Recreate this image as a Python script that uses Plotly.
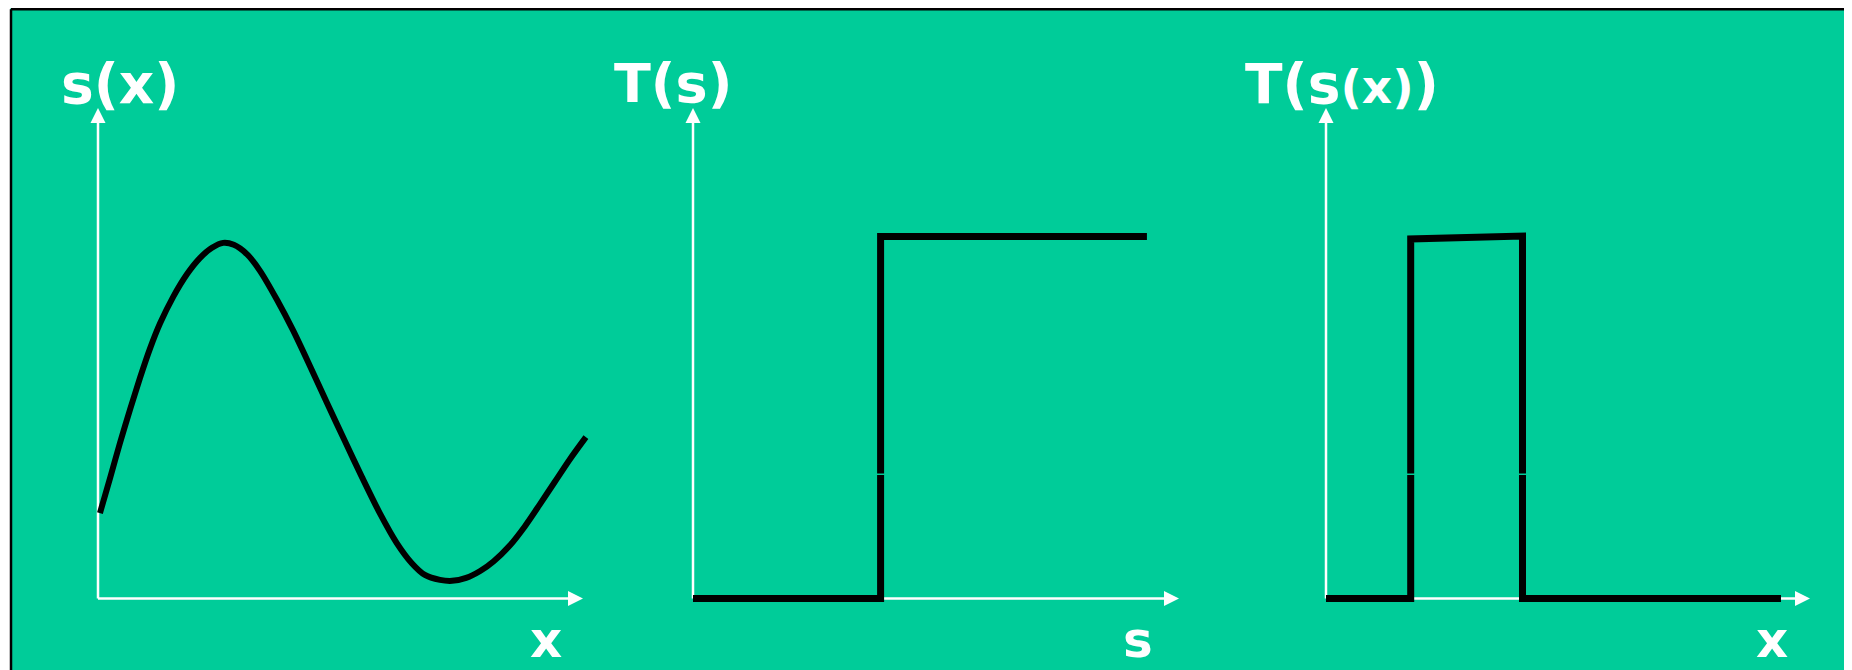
import plotly.graph_objects as go

# ---------------- data ----------------
# Panel 1: s(x)
curve_x = [0.04, 0.25, 0.45, 0.66, 0.87, 1.07, 1.28, 1.55, 1.84, 2.10, 2.35, 2.58,
           2.80, 3.07, 3.34, 3.69, 4.02, 4.37, 4.72, 5.09, 5.44, 5.81, 6.16, 6.47,
           6.74, 7.05, 7.30, 7.59, 7.88, 8.16, 8.49, 8.80, 9.11, 9.42, 9.73, 10.06]
curve_s = [1.74, 2.46, 3.16, 3.85, 4.51, 5.09, 5.61, 6.15, 6.62, 6.94, 7.15, 7.25,
           7.21, 7.02, 6.68, 6.09, 5.47, 4.74, 3.99, 3.21, 2.48, 1.74, 1.13, 0.72,
           0.48, 0.38, 0.36, 0.42, 0.56, 0.76, 1.08, 1.47, 1.92, 2.38, 2.84, 3.29]

# Panel 2: T(s)  (None = tiny break in the vertical stroke)
step_s = [0.0, 3.86, 3.86, None, 3.86, 3.86, 9.34]
step_T = [0.0, 0.0, 2.52, None, 2.55, 7.38, 7.38]

# Panel 3: T(s(x))
pulse_x = [0.0, 1.75, 1.75, None, 1.75, 1.75, 4.06, 4.06, None, 4.06, 4.06, 9.40]
pulse_T = [0.0, 0.0, 2.52, None, 2.55, 7.33, 7.39, 2.55, None, 2.52, 0.0, 0.0]

axis_line_end = 9.76   # white axis line end (under the arrow head)
axis_tip = 10.0        # arrow head position

top_labels = ["<b>s(x)</b>", "<b>T(s)</b>", "<b>T(s<span style='font-size:47px'>(x)</span>)</b>"]
bottom_labels = ["<b>x</b>", "<b>s</b>", "<b>x</b>"]

# ---------------- layout helpers ----------------
FW, FH = 1852, 670
OFF = 8  # page body margin
GREEN = "#00CC99"
FONT = "DejaVu Sans"


def px(x):
    return (x - OFF) / FW


def py(y):
    return 1 - (y - OFF) / FH


# panel geometry in page pixels
panels = [
    dict(ox=98, ppx=48.5, dl=20, dr=648, lab_x=120.5, bot_x=546, lab_size=55),
    dict(ox=693, ppx=48.6, dl=648, dr=1240, lab_x=673, bot_x=1138, lab_size=54),
    dict(ox=1326, ppx=48.4, dl=1240, dr=1852, lab_x=1342, bot_x=1772, lab_size=55),
]
OY, PPY = 598.5, 49.05
DT, DB = 60, 662

fig = go.Figure()
layout_axes = {}
annotations = []
series = [(curve_x, curve_s, 6), (step_s, step_T, 7), (pulse_x, pulse_T, 7)]

for i, p in enumerate(panels):
    n = "" if i == 0 else str(i + 1)
    xa, ya = "x" + n, "y" + n
    xr = [(p["dl"] - p["ox"]) / p["ppx"], (p["dr"] - p["ox"]) / p["ppx"]]
    yr = [(OY - DB) / PPY, (OY - DT) / PPY]
    common = dict(visible=False, showgrid=False, zeroline=False, fixedrange=True)
    layout_axes["xaxis" + n] = dict(domain=[px(p["dl"]), px(p["dr"])], range=xr, anchor=ya, **common)
    layout_axes["yaxis" + n] = dict(domain=[py(DB), py(DT)], range=yr, anchor=xa, **common)

    # white axis lines
    fig.add_trace(go.Scatter(x=[0, axis_line_end], y=[0, 0], mode="lines",
                             line=dict(color="white", width=2.5), xaxis=xa, yaxis=ya,
                             showlegend=False, hoverinfo="skip"))
    fig.add_trace(go.Scatter(x=[0, 0], y=[0, axis_line_end], mode="lines",
                             line=dict(color="white", width=2.5), xaxis=xa, yaxis=ya,
                             showlegend=False, hoverinfo="skip"))
    # black data line
    sx, sy, w = series[i]
    fig.add_trace(go.Scatter(x=sx, y=sy, mode="lines",
                             line=dict(color="black", width=w,
                                       shape="spline" if i == 0 else "linear",
                                       smoothing=0.8 if i == 0 else None),
                             xaxis=xa, yaxis=ya, showlegend=False, hoverinfo="skip",
                             connectgaps=False))
    # arrow heads
    for (hx, hy, tx, ty) in [(axis_tip, 0, axis_tip - 0.3, 0), (0, axis_tip, 0, axis_tip - 0.3)]:
        annotations.append(dict(x=hx, y=hy, ax=tx, ay=ty, xref=xa, yref=ya, axref=xa, ayref=ya,
                                text="", showarrow=True, arrowhead=2, arrowsize=1.2,
                                arrowwidth=2.5, arrowcolor="white", standoff=0, startstandoff=0))
    # labels
    annotations.append(dict(x=px(p["lab_x"]), y=py(83.5), xref="paper", yref="paper",
                            text=top_labels[i], showarrow=False, xanchor="center", yanchor="middle",
                            font=dict(family=FONT, size=p["lab_size"], color="white")))
    annotations.append(dict(x=px(p["bot_x"]), y=py(640), xref="paper", yref="paper",
                            text=bottom_labels[i], showarrow=False, xanchor="center", yanchor="middle",
                            font=dict(family=FONT, size=50, color="white")))

fig.update_layout(
    width=FW, height=FH, autosize=False,
    margin=dict(l=0, r=0, t=0, b=0),
    paper_bgcolor=GREEN, plot_bgcolor="rgba(0,0,0,0)",
    showlegend=False,
    annotations=annotations,
    shapes=[
        # white page strip above / left of the framed area
        dict(type="rect", xref="paper", yref="paper", x0=-0.1, x1=1.2, y0=py(8.5), y1=1.2,
             fillcolor="white", line=dict(width=0), layer="below"),
        dict(type="rect", xref="paper", yref="paper", x0=-0.1, x1=px(10), y0=-0.2, y1=1.2,
             fillcolor="white", line=dict(width=0), layer="below"),
        # frame: top and left black border
        dict(type="line", xref="paper", yref="paper", x0=px(11), x1=1.2, y0=py(9.3), y1=py(9.3),
             line=dict(color="black", width=2.5), layer="below"),
        dict(type="line", xref="paper", yref="paper", x0=px(11), x1=px(11), y0=-0.2, y1=py(9.3),
             line=dict(color="black", width=2.5), layer="below"),
    ],
    **layout_axes,
)

fig.write_html("out.html")
